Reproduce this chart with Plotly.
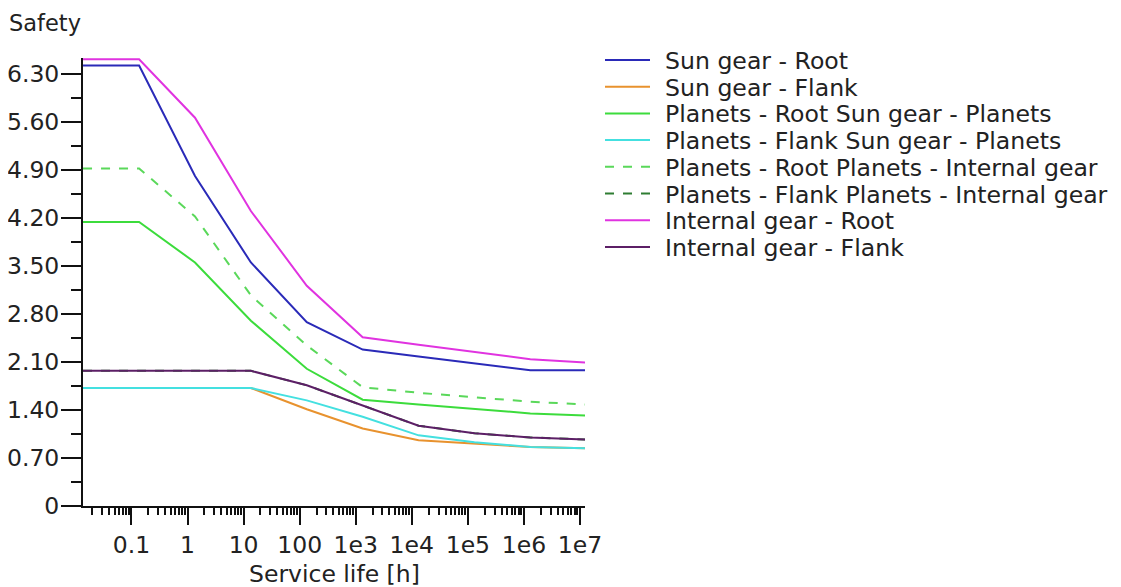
import plotly.graph_objects as go

# Service life [h] sample points
service_life = [0.0137, 0.137, 1.36, 13.5, 134, 1330, 13200, 131000, 1.3e6, 1.23e7]

sun_root = [6.42, 6.42, 4.81, 3.55, 2.68, 2.28, 2.18, 2.08, 1.98, 1.98]
sun_flank = [1.72, 1.72, 1.72, 1.72, 1.41, 1.13, 0.96, 0.91, 0.86, 0.84]
planets_root_sp = [4.14, 4.14, 3.55, 2.70, 2.00, 1.55, 1.48, 1.42, 1.35, 1.32]
planets_flank_sp = [1.72, 1.72, 1.72, 1.72, 1.54, 1.30, 1.03, 0.93, 0.86, 0.84]
planets_root_pi = [4.92, 4.92, 4.22, 3.07, 2.34, 1.73, 1.65, 1.58, 1.52, 1.48]
planets_flank_pi = [1.97, 1.97, 1.97, 1.97, 1.76, 1.47, 1.17, 1.06, 1.00, 0.97]
internal_root = [6.51, 6.51, 5.66, 4.30, 3.21, 2.46, 2.35, 2.25, 2.14, 2.09]
internal_flank = [1.97, 1.97, 1.97, 1.97, 1.76, 1.47, 1.17, 1.06, 1.00, 0.97]

series_names = [
    "Sun gear - Root",
    "Sun gear - Flank",
    "Planets - Root Sun gear - Planets",
    "Planets - Flank Sun gear - Planets",
    "Planets - Root Planets - Internal gear",
    "Planets - Flank Planets - Internal gear",
    "Internal gear - Root",
    "Internal gear - Flank",
]
series_values = [sun_root, sun_flank, planets_root_sp, planets_flank_sp,
                 planets_root_pi, planets_flank_pi, internal_root, internal_flank]
series_colors = ["#2a2ab8", "#e8922e", "#3cdc3c", "#44e0e0",
                 "#5ad85a", "#2e7d32", "#e033e0", "#5c1f66"]
series_dash = ["solid", "solid", "solid", "solid", "dash", "dash", "solid", "solid"]

y_ticks = [0, 0.7, 1.4, 2.1, 2.8, 3.5, 4.2, 4.9, 5.6, 6.3]
y_ticktext = ["0", "0.70", "1.40", "2.10", "2.80", "3.50", "4.20", "4.90", "5.60", "6.30"]
x_ticks = [0.1, 1, 10, 100, 1e3, 1e4, 1e5, 1e6, 1e7]
x_ticktext = ["0.1", "1", "10", "100", "1e3", "1e4", "1e5", "1e6", "1e7"]

# the page body adds an 8px offset, so the figure is 8px smaller and shifted
OFF = 8
W, H = 1121 - OFF, 587 - OFF
PL, PR, PT, PB = 83 - OFF, 585 - OFF, 58 - OFF, 506 - OFF   # plot area in figure pixels
ML, MR, MT, MB = PL, W - PR, PT, H - PB
PW, PH = PR - PL, PB - PT


def px_x(px):
    return (px - OFF - PL) / PW


def px_y(py):
    return (PB - (py - OFF)) / PH


font_family = "DejaVu Sans, Verdana, sans-serif"
txt_color = "#222222"

fig = go.Figure()
for name, vals, col, dash in zip(series_names, series_values, series_colors, series_dash):
    fig.add_trace(go.Scatter(
        x=service_life, y=vals, mode="lines", name=name, showlegend=False,
        line=dict(color=col, width=2, dash=dash),
    ))

# legend drawn as line samples + labels
shapes = []
annotations = []
for i, (name, col, dash) in enumerate(zip(series_names, series_colors, series_dash)):
    yc = 60 + 26.7 * i
    shapes.append(dict(type="line", xref="paper", yref="paper",
                       x0=px_x(605), x1=px_x(650), y0=px_y(yc), y1=px_y(yc),
                       line=dict(color=col, width=2, dash=dash)))
    annotations.append(dict(text=name, xref="paper", yref="paper",
                            x=px_x(663), y=px_y(yc + 1), xanchor="left", yanchor="middle",
                            showarrow=False, font=dict(size=23.6, color=txt_color)))

annotations.append(dict(text="Safety", xref="paper", yref="paper",
                        x=px_x(7), y=px_y(23), xanchor="left", yanchor="middle",
                        showarrow=False, font=dict(size=22.5, color=txt_color)))
annotations.append(dict(text="Service life [h]", xref="paper", yref="paper",
                        x=px_x(334), y=px_y(574), xanchor="center", yanchor="middle",
                        showarrow=False, font=dict(size=23.5, color=txt_color)))

fig.update_layout(
    width=W, height=H,
    margin=dict(l=ML, r=MR, t=MT, b=MB, pad=0, autoexpand=False),
    paper_bgcolor="white", plot_bgcolor="white",
    font=dict(family=font_family, size=23, color=txt_color),
    showlegend=False,
    shapes=shapes,
    annotations=annotations,
    xaxis=dict(
        type="log", range=[-1.864, 7.089],
        tickmode="array", tickvals=x_ticks, ticktext=x_ticktext,
        ticks="outside", ticklen=17, tickwidth=2, tickcolor="#111111",
        showline=True, linecolor="#111111", linewidth=2,
        showgrid=False, zeroline=False,
        minor=dict(ticks="outside", ticklen=7, tickwidth=2, tickcolor="#111111",
                   dtick="D1", showgrid=False),
        tickfont=dict(size=23.5),
    ),
    yaxis=dict(
        range=[0, 6.53],
        tickmode="array", tickvals=y_ticks, ticktext=y_ticktext,
        ticks="outside", ticklen=20, tickwidth=2, tickcolor="#111111",
        showline=True, linecolor="#111111", linewidth=2,
        showgrid=False, zeroline=False,
        minor=dict(ticks="outside", ticklen=10, tickwidth=2, tickcolor="#111111",
                   tickmode="linear", tick0=0, dtick=0.35, showgrid=False),
        tickfont=dict(size=23.5),
        ticklabelstandoff=-3,
    ),
)

fig.write_html("out.html")
